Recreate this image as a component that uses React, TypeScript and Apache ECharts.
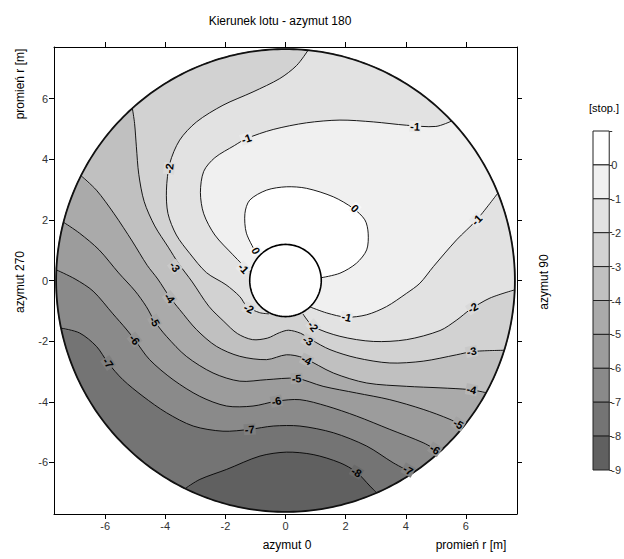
import React, { useEffect, useRef } from 'react';
import * as echarts from 'echarts';

// ---------- data ----------
const xTicks = [-6, -4, -2, 0, 2, 4, 6];
const yTicks = [-6, -4, -2, 0, 2, 4, 6];
const colorbarTops = [1, 0, -1, -2, -3, -4, -5, -6, -7, -8];
const fillLevels = [-9, -8, -7, -6, -5, -4, -3, -2, -1, 0];

// contour lines, in data units [x, y]
const contour0 = [[-0.97, 0.9], [-1.3, 1.56], [-1.35, 2.21], [-1.19, 2.65], [-0.63, 2.98], [0.03, 3.09], [0.7, 3.04], [1.59, 2.76], [2.25, 2.38], [2.64, 2.0], [2.75, 1.56], [2.7, 1.01], [2.36, 0.57], [1.81, 0.24], [1.18, 0.09]];
const contourM1a = [[0.81, -0.87], [1.37, -1.07], [2.03, -1.21], [2.7, -1.13], [3.36, -0.86], [4.03, -0.42], [4.47, -0.09], [4.92, 0.46], [5.69, 1.34], [6.36, 2.0], [7.03, 2.87]];
const contourM1b = [[5.55, 5.28], [5.0, 5.08], [4.03, 5.12], [2.92, 5.23], [1.81, 5.29], [0.7, 5.2], [-0.41, 4.98], [-1.3, 4.68], [-1.7, 4.45], [-2.35, 4.05], [-2.72, 3.6], [-2.83, 2.9], [-2.72, 2.2], [-2.35, 1.5], [-1.75, 0.85], [-1.21, 0.3]];
const contourM2a = [[0.75, 7.59], [0.37, 7.09], [-0.19, 6.66], [-1.08, 6.22], [-2.08, 5.78], [-2.96, 5.23], [-3.52, 4.63], [-3.85, 3.86], [-3.96, 2.98], [-3.91, 2.21], [-3.63, 1.5], [-3.19, 0.9], [-2.63, 0.26], [-1.98, -0.14], [-1.52, -0.53], [-1.28, -0.86], [-0.86, -1.06], [-0.55, -1.1]];
const contourM2b = [[0.58, -1.1], [0.92, -1.51], [1.81, -1.84], [2.92, -2.01], [4.03, -1.95], [5.14, -1.65], [5.7, -1.3], [6.14, -0.96], [6.8, -0.58], [7.64, -0.31]];
const contourM3 = [[-5.13, 5.72], [-5.02, 5.18], [-4.96, 4.41], [-4.88, 3.5], [-4.7, 2.6], [-4.35, 1.8], [-3.9, 1.1], [-3.55, 0.55], [-3.1, -0.05], [-2.55, -0.85], [-2.05, -1.35], [-1.6, -1.75], [-1.1, -1.95], [-0.6, -1.9], [-0.2, -1.72], [0.1, -1.64], [0.5, -1.74], [0.85, -1.95], [1.48, -2.28], [2.36, -2.55], [3.47, -2.72], [4.58, -2.66], [5.69, -2.45], [6.25, -2.34], [7.27, -2.3]];
const contourM4 = [[-6.85, 3.48], [-6.29, 2.98], [-5.7, 2.2], [-5.1, 1.3], [-4.6, 0.5], [-4.25, 0.05], [-3.85, -0.55], [-3.52, -0.96], [-2.96, -1.62], [-2.3, -2.17], [-1.52, -2.5], [-0.63, -2.61], [0.03, -2.45], [0.59, -2.55], [1.59, -3.05], [2.7, -3.38], [4.03, -3.49], [5.14, -3.54], [6.14, -3.6], [6.69, -3.71]];
const contourM5 = [[-7.46, 1.94], [-6.85, 1.56], [-6.2, 1.01], [-5.55, 0.25], [-5.0, -0.35], [-4.63, -0.86], [-4.35, -1.35], [-3.96, -1.84], [-3.3, -2.5], [-2.41, -3.05], [-1.52, -3.32], [-0.63, -3.27], [0.37, -3.23], [1.25, -3.49], [2.36, -3.71], [3.47, -3.93], [4.58, -4.25], [5.47, -4.58], [6.03, -4.91]];
const contourM6 = [[-7.62, 0.35], [-7.0, 0.05], [-6.4, -0.35], [-5.74, -1.1], [-5.3, -1.6], [-5.02, -1.95], [-4.52, -2.61], [-3.74, -3.27], [-2.85, -3.82], [-1.96, -4.14], [-1.08, -4.14], [-0.3, -3.98], [0.48, -3.93], [1.37, -4.14], [2.36, -4.47], [3.47, -4.91], [4.58, -5.35], [5.25, -5.79]];
const contourM7 = [[-7.46, -1.57], [-6.85, -1.73], [-6.29, -2.17], [-5.9, -2.72], [-5.41, -3.27], [-4.74, -3.82], [-3.96, -4.36], [-3.07, -4.8], [-2.08, -4.97], [-1.19, -4.91], [-0.41, -4.8], [0.48, -4.8], [1.59, -5.02], [2.7, -5.46], [3.58, -6.01], [4.25, -6.39]];
const contourM8 = [[-3.35, -6.89], [-2.85, -6.56], [-1.96, -6.23], [-0.85, -5.79], [0.03, -5.66], [0.92, -5.74], [1.81, -6.01], [2.36, -6.32], [2.81, -6.78], [3.03, -7.0]];

// contour labels: [x, y, level]
const contourLabels = [
  [-1.3, 4.68, -1], [4.31, 5.08, -1], [-3.87, 3.7, -2], [2.31, 2.38, 0], [6.36, 2.0, -1],
  [-0.98, 0.98, 0], [-1.4, 0.4, -1], [-3.68, 0.45, -3], [-3.85, -0.58, -4], [-4.35, -1.35, -5],
  [-5.02, -1.95, -6], [-5.9, -2.72, -7], [-1.22, -0.92, -2], [0.92, -1.51, -2], [2.03, -1.21, -1],
  [0.75, -1.98, -3], [0.7, -2.62, -4], [0.37, -3.23, -5], [-0.3, -3.98, -6], [-1.19, -4.91, -7],
  [2.36, -6.32, -8], [4.08, -6.25, -7], [4.97, -5.57, -6], [5.75, -4.73, -5], [6.19, -3.6, -4],
  [6.19, -2.34, -3], [6.23, -0.9, -2],
];

const contourSet = [
  { level: 0, parts: [contour0] },
  { level: -1, parts: [contourM1a, contourM1b] },
  { level: -2, parts: [contourM2a, contourM2b] },
  { level: -3, parts: [contourM3] },
  { level: -4, parts: [contourM4] },
  { level: -5, parts: [contourM5] },
  { level: -6, parts: [contourM6] },
  { level: -7, parts: [contourM7] },
  { level: -8, parts: [contourM8] },
];

// ---------- styles / geometry ----------
const FF = '"Liberation Sans", Arial, Helvetica, sans-serif';
const bandColors = ['#ffffff', '#f0f0f0', '#e2e2e2', '#d2d2d2', '#c0c0c0', '#aaaaaa', '#9c9c9c', '#8a8a8a', '#747474', '#606060'];
const R_OUT = 7.63;
const R_HOLE = 1.19;
const SMOOTH = 0.3;

const allParts: { level: number; pts: number[][] }[] = [];
contourSet.forEach((s) => s.parts.forEach((p) => allParts.push({ level: s.level, pts: p })));

const rad = (p: number[]) => Math.hypot(p[0], p[1]);
const onRim = (p: number[]) => rad(p) > R_OUT * 0.8;
const fixPt = (p: number[], isEnd: boolean) => {
  const r = rad(p);
  if ((isEnd && onRim(p)) || r > R_OUT) return [(p[0] * R_OUT) / r, (p[1] * R_OUT) / r];
  return p;
};
const partPts = (part: number[][]) => part.map((p, j) => fixPt(p, j === 0 || j === part.length - 1));

function circlePts(r: number, n: number) {
  const out: number[][] = [];
  for (let i = 0; i < n; i++) {
    const a = (2 * Math.PI * i) / n;
    out.push([r * Math.cos(a), r * Math.sin(a)]);
  }
  return out;
}

function regionPts(level: number) {
  if (level <= -9) return circlePts(R_OUT, 240);
  const set = contourSet.find((s) => s.level === level)!;
  const out: number[][] = [];
  const parts = set.parts;
  for (let i = 0; i < parts.length; i++) {
    const part = parts[i];
    partPts(part).forEach((p) => out.push(p));
    const end = part[part.length - 1];
    const start = parts[(i + 1) % parts.length][0];
    if (onRim(end) && onRim(start)) {
      const a0 = Math.atan2(end[1], end[0]);
      let a1 = Math.atan2(start[1], start[0]);
      while (a1 <= a0) a1 += 2 * Math.PI;
      const steps = Math.ceil((a1 - a0) / (Math.PI / 120));
      for (let j = 1; j < steps; j++) {
        const a = a0 + ((a1 - a0) * j) / steps;
        out.push([R_OUT * Math.cos(a), R_OUT * Math.sin(a)]);
      }
    } else {
      out.push([0, 0]);
    }
  }
  return out;
}

function mix(c1: string, c2: string) {
  const a = parseInt(c1.slice(1), 16), b = parseInt(c2.slice(1), 16);
  const ch = (v: number, s: number) => (v >> s) & 255;
  const m = (s: number) => Math.round((ch(a, s) + ch(b, s)) / 2);
  return `rgb(${m(16)},${m(8)},${m(0)})`;
}

function labelRotation(api: any, level: number, x: number, y: number) {
  const P = api.coord([x, y]);
  let best = Infinity;
  let ang = 0;
  allParts.filter((p) => p.level === level).forEach((part) => {
    const pts = part.pts.map((q) => api.coord(q));
    for (let i = 0; i < pts.length - 1; i++) {
      const a = pts[i], b = pts[i + 1];
      const dx = b[0] - a[0], dy = b[1] - a[1];
      const L2 = dx * dx + dy * dy || 1;
      let t = ((P[0] - a[0]) * dx + (P[1] - a[1]) * dy) / L2;
      t = Math.max(0, Math.min(1, t));
      const cx = a[0] + t * dx - P[0], cy = a[1] + t * dy - P[1];
      const d = cx * cx + cy * cy;
      if (d < best) { best = d; ang = Math.atan2(dy, dx); }
    }
  });
  let rot = -ang;
  while (rot > Math.PI / 2) rot -= Math.PI;
  while (rot < -Math.PI / 2) rot += Math.PI;
  return rot;
}

function txt(text: string, x: number, y: number, size: number, rotation = 0, color = '#000') {
  return {
    type: 'text', x, y, rotation,
    style: { text, font: `${size}px ${FF}`, fill: color, textAlign: 'center', textVerticalAlign: 'middle', align: 'center', verticalAlign: 'middle' },
  };
}

export default function App() {
  const ref = useRef<HTMLDivElement>(null);
  useEffect(() => {
    document.body.style.margin = '0';
    const chart = echarts.init(ref.current!, null, { renderer: 'svg' });
    const axisBase = (pos: string, ticks: number[], showLabel: boolean, tickLen: number) => ({
      gridIndex: 0, type: 'value', min: -7.7, max: 7.7, position: pos,
      axisLine: { show: true, onZero: false, lineStyle: { color: '#000', width: 1 } },
      axisTick: { show: true, customValues: ticks, length: tickLen, inside: false, lineStyle: { color: '#000', width: 1 } },
      axisLabel: { show: showLabel, customValues: ticks, color: '#333', fontSize: 11, fontFamily: FF, margin: 6 },
      splitLine: { show: false },
    });
    const option: any = {
      animation: false,
      backgroundColor: '#ffffff',
      grid: [
        { left: 54, top: 47, width: 463, height: 467, show: false },
        { left: 593, top: 131, width: 20, height: 339, show: false },
      ],
      xAxis: [
        axisBase('bottom', xTicks, true, 5),
        axisBase('top', xTicks, false, 5),
        { gridIndex: 1, type: 'value', min: 0, max: 1, show: false },
      ],
      yAxis: [
        axisBase('left', yTicks, true, 5),
        axisBase('right', yTicks, false, 5),
        {
          gridIndex: 1, type: 'value', min: -9, max: 1, interval: 1, position: 'right',
          axisLine: { show: false, onZero: false },
          axisTick: { show: true, length: 3, lineStyle: { color: '#333' } },
          axisLabel: { color: '#333', fontSize: 11, fontFamily: FF, margin: 2, formatter: (v: number) => (v > 0 ? '' : String(v)) },
          splitLine: { show: false },
        },
      ],
      graphic: [
        txt('Kierunek lotu - azymut 180', 280, 21, 12),
        txt('azymut 0', 287, 545, 12),
        txt('promień r [m]', 471, 545, 12),
        txt('promień r [m]', 20, 84, 12, Math.PI / 2),
        txt('azymut 270', 20, 282, 12, Math.PI / 2),
        txt('azymut 90', 544, 282, 12, Math.PI / 2),
        txt('[stop.]', 604, 108, 11),
      ],
      series: [
        {
          type: 'custom', name: 'fills', xAxisIndex: 0, yAxisIndex: 0, z: 2,
          data: fillLevels.map((l) => [0, 0, l]), encode: { x: 0, y: 1 },
          renderItem: (params: any, api: any) => {
            const level = api.value(2);
            const color = bandColors[-level];
            return {
              type: 'polygon',
              shape: { points: regionPts(level).map((p) => api.coord(p)), smooth: SMOOTH },
              style: { fill: color, stroke: color, lineWidth: 0.5 },
            };
          },
        },
        {
          type: 'custom', name: 'lines', xAxisIndex: 0, yAxisIndex: 0, z: 3,
          data: allParts.map((p, i) => [0, 0, i]), encode: { x: 0, y: 1 },
          renderItem: (params: any, api: any) => {
            const part = allParts[api.value(2)];
            return {
              type: 'polyline',
              shape: { points: partPts(part.pts).map((p) => api.coord(p)), smooth: SMOOTH },
              style: { stroke: '#000', lineWidth: 0.9, fill: 'none' },
            };
          },
        },
        {
          type: 'custom', name: 'rims', xAxisIndex: 0, yAxisIndex: 0, z: 4,
          data: [[0, 0, 0]], encode: { x: 0, y: 1 },
          renderItem: (params: any, api: any) => ({
            type: 'group',
            children: [
              { type: 'polygon', shape: { points: circlePts(R_HOLE, 120).map((p) => api.coord(p)) }, style: { fill: '#ffffff', stroke: '#000', lineWidth: 1.6 } },
              { type: 'polygon', shape: { points: circlePts(R_OUT, 360).map((p) => api.coord(p)) }, style: { fill: 'none', stroke: '#111', lineWidth: 1.8 } },
            ],
          }),
        },
        {
          type: 'custom', name: 'labels', xAxisIndex: 0, yAxisIndex: 0, z: 5,
          data: contourLabels, encode: { x: 0, y: 1 },
          renderItem: (params: any, api: any) => {
            const x = api.value(0), y = api.value(1), level = api.value(2);
            const pt = api.coord([x, y]);
            return {
              type: 'text', x: pt[0], y: pt[1], rotation: labelRotation(api, level, x, y),
              style: {
                text: String(level), font: `bold 11px ${FF}`, fill: '#000',
                textAlign: 'center', textVerticalAlign: 'middle', align: 'center', verticalAlign: 'middle',
                backgroundColor: mix(bandColors[-level], bandColors[-level + 1]), padding: [0, 1],
              },
            };
          },
        },
        {
          type: 'custom', name: 'colorbar', xAxisIndex: 2, yAxisIndex: 2, z: 3,
          data: colorbarTops.map((t, k) => [0, t, k]), encode: { x: 0, y: 1 },
          renderItem: (params: any, api: any) => {
            const top = api.value(1), k = api.value(2);
            const a = api.coord([0, top]);
            const b = api.coord([1, top - 1]);
            return {
              type: 'rect',
              shape: { x: a[0], y: a[1], width: b[0] - a[0], height: b[1] - a[1] },
              style: { fill: bandColors[k], stroke: '#222', lineWidth: 1 },
            };
          },
        },
      ],
    };
    chart.setOption(option);
    return () => chart.dispose();
  }, []);
  return <div ref={ref} style={{ position: 'absolute', left: 0, top: 0, width: 624, height: 559 }} />;
}
